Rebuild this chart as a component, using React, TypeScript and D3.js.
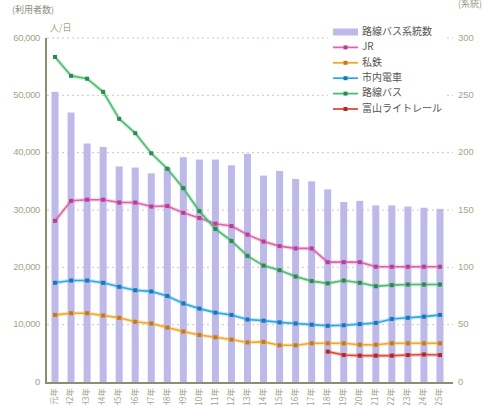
import React from "react";
import * as d3 from "d3";

const years = Array.from({ length: 25 }, (_, i) => (i === 0 ? "H元年" : `H${i + 1}年`));

const routeCount = [253, 235, 208, 205, 188, 187, 182, 187, 196, 194, 194, 189, 199, 180, 184, 177, 175, 168, 157, 158, 154, 154, 153, 152, 151];

const jr = [28100, 31600, 31800, 31800, 31300, 31300, 30600, 30700, 29500, 28600, 27600, 27200, 25700, 24500, 23700, 23300, 23300, 20900, 20900, 20900, 20100, 20100, 20100, 20100, 20100];
const privateRail = [11700, 12000, 12000, 11600, 11200, 10500, 10200, 9500, 8800, 8200, 7800, 7400, 6900, 7000, 6400, 6400, 6750, 6750, 6750, 6500, 6500, 6750, 6750, 6750, 6750];
const tram = [17300, 17700, 17700, 17300, 16600, 16000, 15800, 15000, 13700, 12800, 12100, 11700, 10900, 10700, 10400, 10200, 10000, 9800, 9900, 10100, 10300, 11000, 11200, 11400, 11700];
const routeBus = [56700, 53400, 52900, 50600, 45900, 43400, 39900, 37200, 33800, 29800, 26700, 24600, 22000, 20300, 19500, 18400, 17600, 17200, 17700, 17300, 16700, 16900, 17000, 17000, 17000];
const lightRail: (number | null)[] = [null, null, null, null, null, null, null, null, null, null, null, null, null, null, null, null, null, 5300, 4700, 4600, 4600, 4600, 4700, 4800, 4700];

const leftTicks = [0, 10000, 20000, 30000, 40000, 50000, 60000];
const rightTicks = [0, 50, 100, 150, 200, 250, 300];

const lineSeries = [
  { name: "JR", values: jr as (number | null)[], color: "#e062b0", marker: "#b8408c" },
  { name: "私鉄", values: privateRail as (number | null)[], color: "#f2a62a", marker: "#c27a1c" },
  { name: "市内電車", values: tram as (number | null)[], color: "#2fa9e2", marker: "#1a78b8" },
  { name: "路線バス", values: routeBus as (number | null)[], color: "#4dbb72", marker: "#2b8a4e" },
  { name: "富山ライトレール", values: lightRail, color: "#e24a3c", marker: "#b32a20" },
];

const W = 488;
const H = 405;
const left = 47;
const right = 448;
const top = 38;
const bottom = 382;

export default function App() {
  const x = d3.scalePoint<string>().domain(years).range([left, right]).padding(0.5);
  const yL = d3.scaleLinear().domain([0, 60000]).range([bottom, top]);
  const yR = d3.scaleLinear().domain([0, 300]).range([bottom, top]);
  const fmt = d3.format(",");
  const barW = 7;
  const font = "'Liberation Sans', 'Noto Sans CJK JP', sans-serif";
  const jpFont = "'Noto Sans CJK JP', sans-serif";

  const lineGen = d3
    .line<number | null>()
    .defined((d) => d !== null)
    .x((_, i) => x(years[i]) as number)
    .y((d) => yL(d as number));

  const legendItems = [{ name: "路線バス系統数", bar: true, color: "#bdb9e8", marker: "" }, ...lineSeries.map((s) => ({ name: s.name, bar: false, color: s.color, marker: s.marker }))];

  return (
    <svg width={W} height={H} style={{ position: "absolute", left: 0, top: 0, background: "#fff" }}>
      {leftTicks.slice(1).map((t) => (
        <line key={t} x1={left} x2={453} y1={yL(t)} y2={yL(t)} stroke="#cfcaa8" strokeWidth={1} strokeDasharray="2,3" />
      ))}
      {routeCount.map((v, i) => (
        <rect key={i} x={(x(years[i]) as number) - barW / 2} y={yR(v)} width={barW} height={bottom - yR(v)} fill="#bdb9e8" />
      ))}
      {lineSeries.map((s) => (
        <g key={s.name}>
          <path d={lineGen(s.values) || ""} fill="none" stroke={s.color} strokeOpacity={0.25} strokeWidth={4} />
          <path d={lineGen(s.values) || ""} fill="none" stroke={s.color} strokeWidth={1.6} />
          {s.values.map((v, i) =>
            v === null ? null : (
              <rect key={i} x={(x(years[i]) as number) - 2} y={yL(v) - 2} width={4} height={4} fill={s.marker} />
            )
          )}
        </g>
      ))}
      <line x1={left - 1} x2={left - 1} y1={top} y2={bottom + 1} stroke="#8f8c70" strokeWidth={2} />
      <line x1={left - 2} x2={453} y1={bottom + 1} y2={bottom + 1} stroke="#8f8c70" strokeWidth={2} />
      {leftTicks.map((t) => (
        <text key={t} x={40} y={yL(t)} textAnchor="end" dominantBaseline="middle" fontSize={9.5} fill="#a8a488" fontFamily={font} letterSpacing={-0.4}>
          {fmt(t)}
        </text>
      ))}
      {rightTicks.map((t) => (
        <text key={t} x={458} y={yR(t)} textAnchor="start" dominantBaseline="middle" fontSize={9.5} fill="#a8a488" fontFamily={font}>
          {t}
        </text>
      ))}
      {years.map((yv) => (
        <text key={yv} transform={`translate(${x(yv)},${388}) rotate(-90)`} textAnchor="end" dominantBaseline="middle" fontSize={8.5} fill="#a8a488" fontFamily={jpFont}>
          {yv}
        </text>
      ))}
      <text x={12} y={13} fontSize={9} fill="#8c8a80" fontFamily={jpFont}>(利用者数)</text>
      <text x={50} y={31} fontSize={9} fill="#a8a488" fontFamily={jpFont}>人/日</text>
      <text x={458} y={7} fontSize={9} fill="#9a9888" fontFamily={jpFont}>(系統)</text>
      <rect x={328} y={22} width={118} height={96} fill="#fff" />
      {legendItems.map((it, i) => {
        const ly = 32 + i * 15.4;
        return (
          <g key={it.name}>
            {it.bar ? (
              <rect x={333} y={ly - 3.5} width={25} height={7} fill={it.color} />
            ) : (
              <g>
                <line x1={333} x2={358} y1={ly} y2={ly} stroke={it.color} strokeWidth={1.8} />
                <rect x={343.5} y={ly - 2} width={4} height={4} fill={it.marker} />
              </g>
            )}
            <text x={362} y={ly} dominantBaseline="middle" fontSize={10} fill="#555" fontFamily={jpFont}>
              {it.name}
            </text>
          </g>
        );
      })}
    </svg>
  );
}
